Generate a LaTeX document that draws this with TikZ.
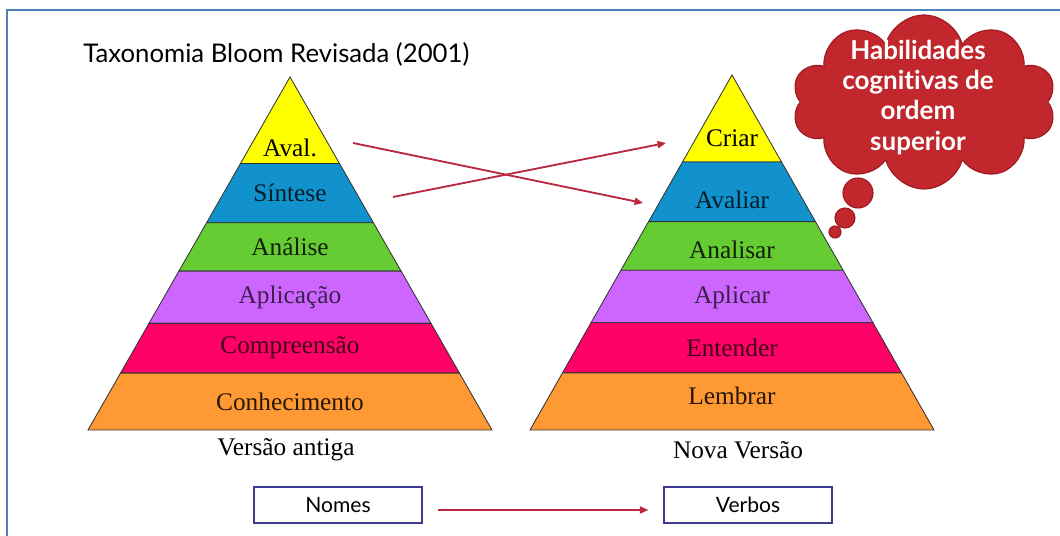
\documentclass[tikz,border=0pt]{standalone}
\usepackage{fontspec}
\setmainfont{Liberation Serif}
\newfontfamily\gillsans[Ligatures=NoCommon]{Lato}
\usepackage{xcolor}
\usetikzlibrary{arrows.meta,calc,shapes.symbols}

\definecolor{frameblue}{HTML}{4F81BD}
\definecolor{layyellow}{HTML}{FFFF00}
\definecolor{layblue}{HTML}{1192CD}
\definecolor{laygreen}{HTML}{66CC33}
\definecolor{layviolet}{HTML}{CC66FF}
\definecolor{laypink}{HTML}{FF0066}
\definecolor{layorange}{HTML}{FF9933}
\definecolor{arrred}{HTML}{B8283F}
\definecolor{cloudred}{HTML}{C1272D}
\definecolor{cloudedge}{HTML}{9B1B22}
\definecolor{boxblue}{HTML}{3B3B8F}

\begin{document}
\begin{tikzpicture}[
    band/.style={draw=black!80, line width=0.6pt},
    lvl/.style={font=\fontsize{18}{20}\selectfont, inner sep=0pt},
    caption/.style={font=\fontsize{18}{20}\selectfont, inner sep=0pt},
    wordbox/.style={rectangle, draw=boxblue, line width=0.9pt, minimum width=4.2cm, minimum height=0.9cm, font=\gillsans\fontsize{15}{17}\selectfont},
    arr/.style={-{Triangle[length=6pt,width=5pt]}, line width=1.3pt, draw=arrred},
    thought/.style={fill=cloudred, draw=cloudedge, line width=0.8pt},
    cloudtext/.style={align=center, text=white, inner sep=0pt, font=\gillsans\bfseries\fontsize{18.5}{21.5}\selectfont},
]

\useasboundingbox (0,0) rectangle (26.5,13.4);
\draw[frameblue, line width=1.5pt] (0.175,0) -- (0.175,13.15) -- (26.5,13.15);

% === TITLE ===
\node[anchor=base west, inner sep=0pt, font=\gillsans\fontsize{18.3}{21}\selectfont]
    (title) at (2.075,11.825) {Taxonomia Bloom Revisada (2001)};

% === OLD PYRAMID ===
\coordinate (oA) at (7.25,11.475);
\coordinate (oL) at (2.2,2.65);
\coordinate (oR) at (12.3,2.65);
\filldraw[band, fill=layyellow] (oA) -- ($(oA)!.245!(oL)$) -- ($(oA)!.245!(oR)$) -- cycle;
\filldraw[band, fill=layblue] ($(oA)!.245!(oL)$) -- ($(oA)!.413!(oL)$) -- ($(oA)!.413!(oR)$) -- ($(oA)!.245!(oR)$) -- cycle;
\filldraw[band, fill=laygreen] ($(oA)!.413!(oL)$) -- ($(oA)!.55!(oL)$) -- ($(oA)!.55!(oR)$) -- ($(oA)!.413!(oR)$) -- cycle;
\filldraw[band, fill=layviolet] ($(oA)!.55!(oL)$) -- ($(oA)!.698!(oL)$) -- ($(oA)!.698!(oR)$) -- ($(oA)!.55!(oR)$) -- cycle;
\filldraw[band, fill=laypink] ($(oA)!.698!(oL)$) -- ($(oA)!.839!(oL)$) -- ($(oA)!.839!(oR)$) -- ($(oA)!.698!(oR)$) -- cycle;
\filldraw[band, fill=layorange] ($(oA)!.839!(oL)$) -- (oL) -- (oR) -- ($(oA)!.839!(oR)$) -- cycle;

\node[lvl, text=black] (aval) at (7.25,9.7) {Aval.};
\node[lvl, text=layblue!20!black] (sintese) at (7.25,8.575) {Síntese};
\node[lvl, text=laygreen!15!black] (analise) at (7.25,7.22) {Análise};
\node[lvl, text=layviolet!30!black] (aplicacao) at (7.25,5.975) {Aplicação};
\node[lvl, text=laypink!25!black] (compreensao) at (7.25,4.7) {Compreensão};
\node[lvl, text=layorange!15!black] (conhecimento) at (7.25,3.36) {Conhecimento};
\node[caption] (oldcap) at (7.15,2.15) {Versão antiga};

% === NEW PYRAMID ===
\coordinate (nA) at (18.3,11.525);
\coordinate (nL) at (13.25,2.65);
\coordinate (nR) at (23.35,2.65);
\filldraw[band, fill=layyellow] (nA) -- ($(nA)!.245!(nL)$) -- ($(nA)!.245!(nR)$) -- cycle;
\filldraw[band, fill=layblue] ($(nA)!.245!(nL)$) -- ($(nA)!.413!(nL)$) -- ($(nA)!.413!(nR)$) -- ($(nA)!.245!(nR)$) -- cycle;
\filldraw[band, fill=laygreen] ($(nA)!.413!(nL)$) -- ($(nA)!.55!(nL)$) -- ($(nA)!.55!(nR)$) -- ($(nA)!.413!(nR)$) -- cycle;
\filldraw[band, fill=layviolet] ($(nA)!.55!(nL)$) -- ($(nA)!.698!(nL)$) -- ($(nA)!.698!(nR)$) -- ($(nA)!.55!(nR)$) -- cycle;
\filldraw[band, fill=laypink] ($(nA)!.698!(nL)$) -- ($(nA)!.839!(nL)$) -- ($(nA)!.839!(nR)$) -- ($(nA)!.698!(nR)$) -- cycle;
\filldraw[band, fill=layorange] ($(nA)!.839!(nL)$) -- (nL) -- (nR) -- ($(nA)!.839!(nR)$) -- cycle;

\node[lvl, text=black] (criar) at (18.3,9.95) {Criar};
\node[lvl, text=layblue!20!black] (avaliar) at (18.3,8.4) {Avaliar};
\node[lvl, text=laygreen!15!black] (analisar) at (18.3,7.15) {Analisar};
\node[lvl, text=layviolet!30!black] (aplicar) at (18.3,5.975) {Aplicar};
\node[lvl, text=laypink!25!black] (entender) at (18.3,4.7) {Entender};
\node[lvl, text=layorange!15!black] (lembrar) at (18.3,3.5) {Lembrar};
\node[caption] (newcap) at (18.45,2.15) {Nova Versão};

% === MAPPING ARROWS ===
\coordinate (avalout) at (8.825,9.825);
\coordinate (avaliarin) at (16.075,8.325);
\coordinate (sinteseout) at (9.825,8.475);
\coordinate (criarin) at (16.65,9.825);
\draw[arr] (avalout) -- (avaliarin);
\draw[arr] (sinteseout) -- (criarin);

% === THOUGHT CLOUD ===
\node[cloud, cloud puffs=10, cloud ignores aspect, thought, minimum width=6.6cm, minimum height=4.35cm,
      inner sep=0pt, label={[cloudtext, xshift=-0.15cm, yshift=0.12cm]center:{Habilidades\\cognitivas de\\ordem\\superior}}]
    (bubble) at (23.1,10.85) {};
\filldraw[thought] (21.45,8.575) circle (0.375);
\filldraw[thought] (21.125,7.95) circle (0.25);
\filldraw[thought] (20.875,7.6) circle (0.15);

% === NOUNS / VERBS ===
\node[wordbox] (nomes) at (8.45,0.775) {Nomes};
\node[wordbox] (verbos) at (18.7,0.775) {Verbos};
\draw[arr, shorten <=0.375cm, shorten >=0.375cm]
    ([yshift=-0.125cm]nomes.east) -- ([yshift=-0.125cm]verbos.west);

\end{tikzpicture}
\end{document}
